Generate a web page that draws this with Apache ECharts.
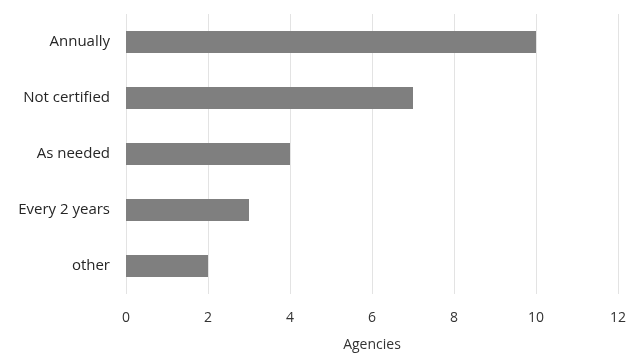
<!DOCTYPE html>
<html><head><meta charset="utf-8">
<script src="https://cdn.jsdelivr.net/npm/echarts@6/dist/echarts.min.js"></script>
<style>html,body{margin:0;padding:0;background:#fff}#c{width:629px;height:353px}</style>
</head><body><div id="c"></div>
<script>
const categories = ["Annually", "Not certified", "As needed", "Every 2 years", "other"];
const values = [10, 7, 4, 3, 2];
const xTicks = [0, 2, 4, 6, 8, 10, 12];
const axisTitle = "Agencies";

const chart = echarts.init(document.getElementById('c'), null, {renderer: 'canvas'});
chart.setOption({
  animation: false,
  backgroundColor: '#ffffff',
  grid: {left: 126, right: 11, top: 14, bottom: 59, containLabel: false, outerBoundsMode: 'none'},
  xAxis: {
    type: 'value', min: xTicks[0], max: xTicks[xTicks.length - 1], interval: 2,
    name: axisTitle, nameLocation: 'middle', nameGap: 44,
    nameTextStyle: {color: '#333333', fontSize: 14, fontFamily: 'Open Sans'},
    axisLine: {show: false}, axisTick: {show: false},
    axisLabel: {color: '#333333', fontSize: 14, fontFamily: 'Open Sans', margin: 17},
    splitLine: {show: true, lineStyle: {color: '#e3e3e3', width: 1}}
  },
  yAxis: {
    type: 'category', data: categories, inverse: true,
    axisLine: {show: false}, axisTick: {show: false},
    axisLabel: {color: '#262626', fontSize: 15, fontFamily: 'Open Sans', margin: 16},
    splitLine: {show: false}
  },
  series: [{
    type: 'bar', data: values, barWidth: 22,
    itemStyle: {color: '#7f7f7f'}
  }]
});
</script></body></html>
